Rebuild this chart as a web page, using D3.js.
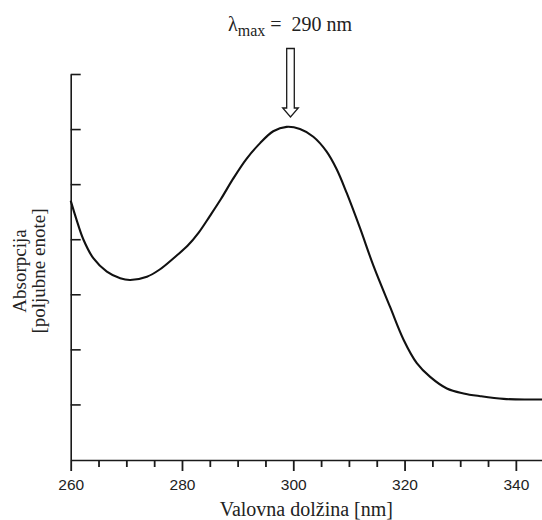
<!DOCTYPE html>
<html>
<head>
  <meta charset="utf-8">
  <title>UV spekter</title>
  <script src="https://d3js.org/d3.v7.min.js"></script>
  <style>
    body { margin: 0; background: #fff; }
    svg { display: block; }
  </style>
</head>
<body>

  <svg width="542" height="520"></svg>

  <script>

    // Spectrum: wavelength (nm) and absorbance (arbitrary units)
    const wavelength = [260, 261, 262.3, 264.1, 266.5, 268.9, 270.7, 273.7, 276, 279, 281, 283, 285, 287,
      289.2, 291.6, 294, 296.4, 298.8, 301.2, 303.6, 306, 307.8, 309.6, 312, 314.4, 317.4, 319.8,
      322.2, 324.6, 327.6, 330.6, 333.6, 337.8, 342.5, 344.7];
    const absorbance = [4.70, 4.37, 3.99, 3.65, 3.41, 3.29, 3.26, 3.32, 3.45, 3.70, 3.88, 4.12, 4.42, 4.73,
      5.10, 5.46, 5.74, 5.96, 6.04, 6.00, 5.86, 5.59, 5.27, 4.84, 4.20, 3.52, 2.77, 2.18,
      1.75, 1.50, 1.29, 1.20, 1.15, 1.10, 1.09, 1.09];

    // Axis ticks
    const xMajorTicks = [260, 280, 300, 320, 340];
    const xMinorTicks = [265, 270, 275, 285, 290, 295, 305, 310, 315, 325, 330, 335];
    const yTicks = [1, 2, 3, 4, 5, 6, 7];

    // Annotation
    const peakNm = 299.5;
    const peakLabel = "290 nm";

    const data = wavelength.map((w, i) => ({ x: w, y: absorbance[i] }));

    const svg = d3.select("svg");
    const serif = "'Liberation Serif', 'Times New Roman', serif";
    const sans = "'Liberation Sans', Arial, sans-serif";
    const ink = "#1a1a1a";

    // Scales
    const x = d3.scaleLinear()
      .domain([260, 344.7])
      .range([70.7, 542]);

    const y = d3.scaleLinear()
      .domain([0, 7])
      .range([459.5, 74]);

    const y0 = Math.round(y(0));

    // minor ticks every 5 nm (drawn by an axis with its own tick list)
    svg.append("g")
      .attr("class", "x-minor")
      .attr("transform", `translate(0,${y0})`)
      .call(d3.axisBottom(x).tickValues(xMinorTicks).tickSize(7).tickSizeOuter(0).tickFormat(""))
      .call(g => g.select(".domain").attr("stroke", "none"))
      .call(g => g.selectAll(".tick line").attr("stroke", ink).attr("stroke-width", 1.8));

    // x axis with labelled major ticks pointing down
    const xAxis = svg.append("g")
      .attr("transform", `translate(0,${y0})`)
      .call(d3.axisBottom(x).tickValues(xMajorTicks).tickSize(11).tickSizeOuter(0).tickFormat(d3.format("d")));

    xAxis.select(".domain").attr("stroke", ink).attr("stroke-width", 1.6);
    xAxis.selectAll(".tick line").attr("stroke", ink).attr("stroke-width", 1.8);
    xAxis.selectAll(".tick text")
      .attr("y", 30)
      .attr("dy", 0)
      .attr("fill", "#222")
      .style("font-family", sans)
      .style("font-size", "15.5px");

    // y axis: ticks point into the plot, no labels
    const yAxis = svg.append("g")
      .attr("transform", `translate(${x(260)},0)`)
      .call(d3.axisRight(y).tickValues(yTicks).tickSize(10).tickSizeOuter(0).tickFormat(""));

    yAxis.select(".domain").attr("stroke", ink).attr("stroke-width", 1.6);
    yAxis.selectAll("line").attr("stroke", ink).attr("stroke-width", 1.6);

    // Spectrum line
    const line = d3.line()
      .x(d => x(d.x))
      .y(d => y(d.y))
      .curve(d3.curveCatmullRom.alpha(0.5));

    svg.append("path")
      .datum(data)
      .attr("fill", "none")
      .attr("stroke", "#111")
      .attr("stroke-width", 2.1)
      .attr("stroke-linejoin", "round")
      .attr("d", line);

    // Axis titles
    svg.append("text")
      .attr("x", (x.range()[0] + x.range()[1]) / 2)
      .attr("y", 516)
      .attr("text-anchor", "middle")
      .attr("fill", "#222")
      .style("font-family", serif)
      .style("font-size", "20px")
      .text("Valovna dolžina [nm]");

    const yTitle = svg.append("text")
      .attr("transform", "translate(0,271) rotate(-90)")
      .attr("text-anchor", "middle")
      .attr("fill", "#222")
      .style("font-family", serif)
      .style("font-size", "19px");

    yTitle.append("tspan").attr("x", 0).attr("y", 26).text("Absorpcija");
    yTitle.append("tspan").attr("x", 0).attr("y", 45).text("[poljubne enote]");

    // Hollow arrow pointing at the maximum
    const ax = x(peakNm);
    const arrow = d3.path();
    arrow.moveTo(ax - 3.8, 48.5);
    arrow.lineTo(ax + 3.8, 48.5);
    arrow.lineTo(ax + 3.8, 108);
    arrow.lineTo(ax + 7.8, 108);
    arrow.lineTo(ax, 117);
    arrow.lineTo(ax - 7.8, 108);
    arrow.lineTo(ax - 3.8, 108);
    arrow.closePath();

    svg.append("path")
      .attr("d", arrow.toString())
      .attr("fill", "#fff")
      .attr("stroke", ink)
      .attr("stroke-width", 1.3)
      .attr("stroke-linejoin", "miter");

    // λmax label
    const label = svg.append("text")
      .attr("x", 228)
      .attr("y", 31)
      .attr("fill", "#222")
      .style("font-family", serif)
      .style("font-size", "20px");

    label.append("tspan").text("λ");
    label.append("tspan").attr("dy", 4.5).style("font-size", "16px").text("max");
    label.append("tspan").attr("dy", -4.5).attr("dx", 5).text("=");
    label.append("tspan").attr("dx", 10).text(peakLabel);

  </script>

</body>
</html>
